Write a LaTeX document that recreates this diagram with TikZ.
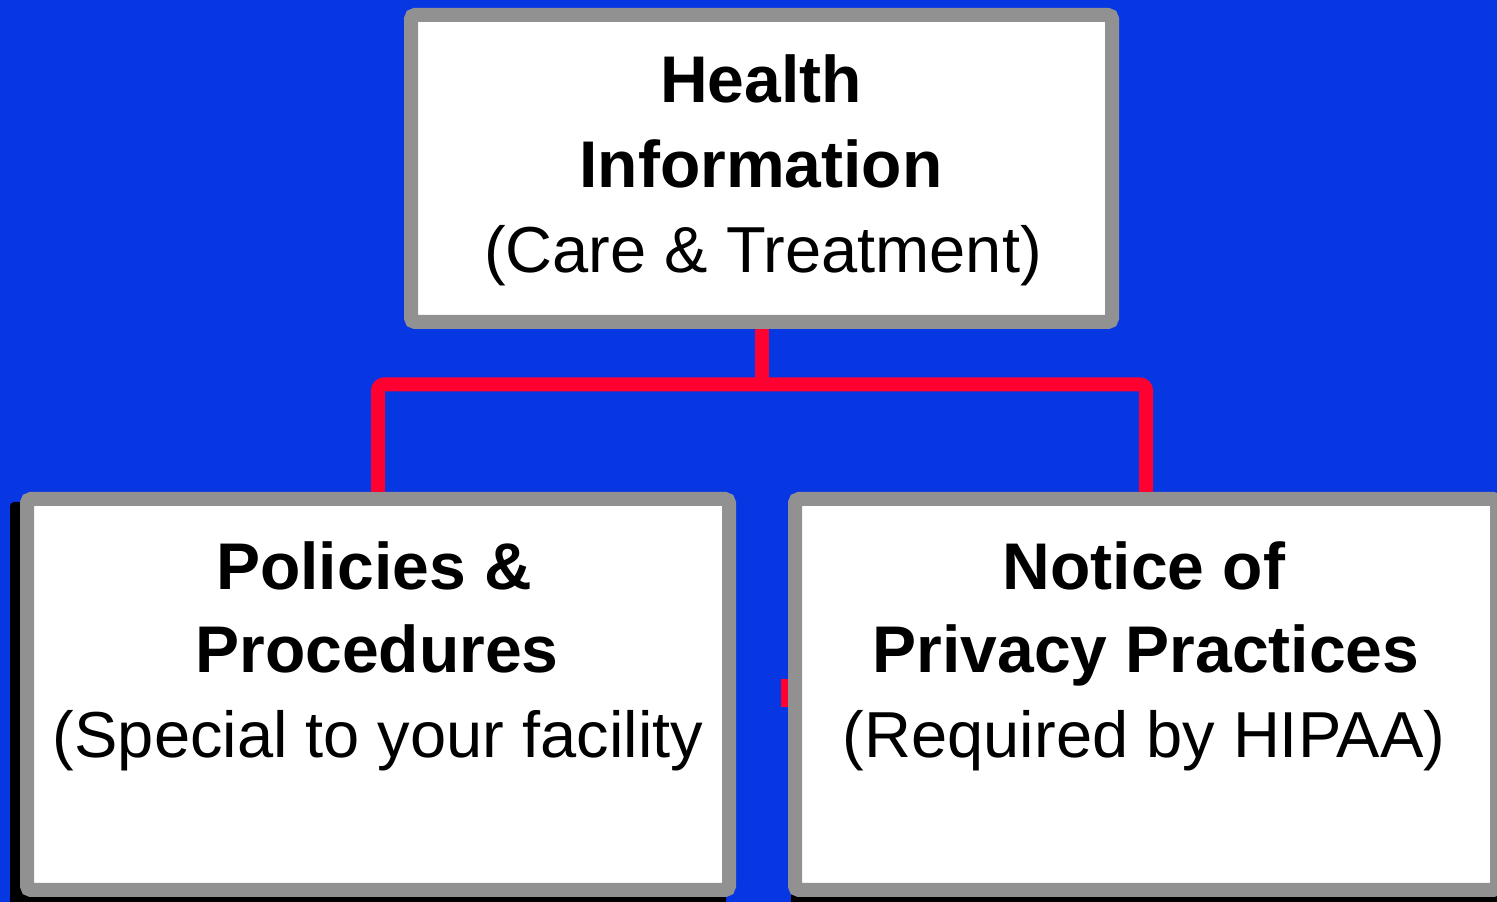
\documentclass[tikz,border=0pt]{standalone}
\usepackage{fontspec}
\setmainfont{Liberation Sans}
\definecolor{bgblue}{HTML}{0737E3}
\definecolor{boxgray}{HTML}{919191}
\definecolor{connred}{HTML}{FF0030}
\begin{document}
\begin{tikzpicture}[x=1pt,y=1pt,
  box/.style={draw=boxgray, fill=white, line width=14pt, rounded corners=4pt, inner sep=0pt, minimum width=702pt},
  shadowbox/.style={fill=black, rounded corners=4pt},
  conn/.style={draw=connred, line width=14pt, rounded corners=6pt},
  bold/.style={font=\fontsize{66pt}{66pt}\selectfont\bfseries, anchor=base, inner sep=0pt},
  plain/.style={font=\fontsize{65pt}{65pt}\selectfont, anchor=base, inner sep=0pt}]
\useasboundingbox (0,0) rectangle (1497,902);
\fill[bgblue] (0,0) rectangle (1497,902);
\clip (0,0) rectangle (1497,902);
% shadows
\fill[shadowbox] (10,-5) rectangle (726,400);
\fill[shadowbox] (791,-5) rectangle (1504,402);
% boxes
\node[box, minimum width=701pt, minimum height=307pt] (top) at (761.5,733.5) {};
\node[box, minimum height=391pt] (left) at (378,207.5) {};
\node[box, minimum height=391pt] (right) at (1146,207.5) {};
% connectors
\coordinate (j) at (761.5,517.5);
\draw[conn] (top.south) -- (j);
\draw[conn] (left.north) |- (j) -| (right.north);
% stray red mark
\fill[connred] (781,195) rectangle (788,223);
% texts
\node[bold]  (t1) at (761,799) {Health};
\node[bold]  (t2) at (761,714) {Information};
\node[plain] (t3) at (763,629) {(Care \& Treatment)};
\node[bold]  (l1) at (374,312) {Policies \&};
\node[bold]  (l2) at (377,229) {Procedures};
\node[plain] (l3) at (378,144) {(Special to your facility};
\node[bold]  (r1) at (1144,312) {Notice of};
\node[bold]  (r2) at (1146,229) {Privacy Practices};
\node[plain] (r3) at (1144,144) {(Required by HIPAA)};
\end{tikzpicture}
\end{document}
